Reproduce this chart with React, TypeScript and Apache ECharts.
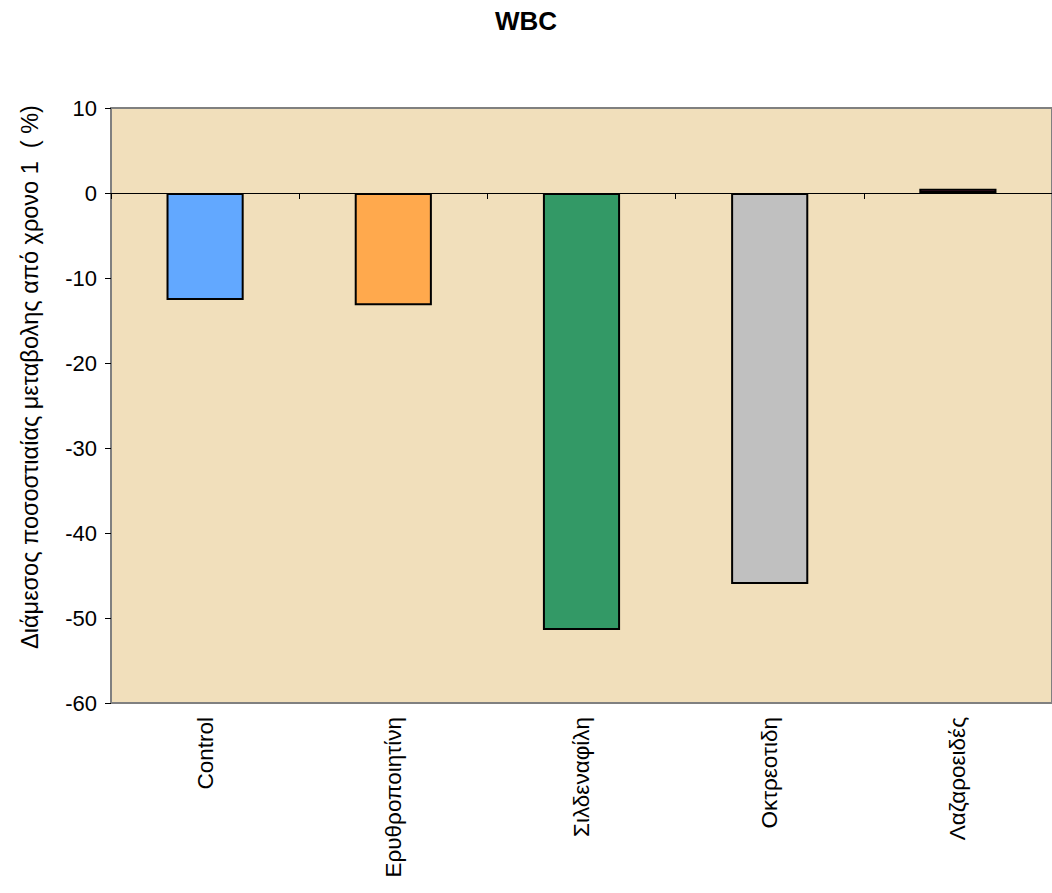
import React, { useEffect, useRef } from "react";
import * as echarts from "echarts";

// WBC: median percentage change from year 1, per treatment group
const categories = ["Control", "Ερυθροποιητίνη", "Σιλδεναφίλη", "Οκτρεοτιδη", "Λαζαροειδές"];
const values = [-12.6, -13.2, -51.4, -46.0, 0.5];
const barColors = ["#62A8FF", "#FFA94D", "#339966", "#C0C0C0", "#993366"];
const yTicks = { min: -60, max: 10, interval: 10 };

const FONT = "'Liberation Sans', Arial, sans-serif";

export default function App() {
  const ref = useRef<HTMLDivElement>(null);

  useEffect(() => {
    if (!ref.current) return;
    const chart = echarts.init(ref.current, undefined, { renderer: "svg" });

    chart.setOption({
      animation: false,
      backgroundColor: "#FFFFFF",
      title: {
        text: "WBC",
        left: "center",
        top: 3,
        textStyle: { fontFamily: FONT, fontSize: 26, fontWeight: "bold", color: "#000" },
      },
      grid: {
        left: 111,
        right: 0,
        top: 108,
        bottom: 190,
        show: true,
        backgroundColor: "#F1DFBB",
        borderColor: "#808080",
        borderWidth: 2,
      },
      xAxis: [
        {
          type: "category",
          data: categories,
          position: "bottom",
          axisLine: { show: false, onZero: false },
          axisTick: { show: false },
          axisLabel: {
            rotate: 90,
            margin: 14,
            fontFamily: FONT,
            fontSize: 22.5,
            color: "#000",
            interval: 0,
          },
        },
        {
          type: "category",
          data: categories,
          position: "bottom",
          axisLine: { show: true, onZero: true, lineStyle: { color: "#000", width: 1 } },
          axisTick: { show: true, inside: false, length: 6, lineStyle: { color: "#000", width: 1 } },
          axisLabel: { show: false },
        },
      ],
      yAxis: {
        type: "value",
        min: yTicks.min,
        max: yTicks.max,
        interval: yTicks.interval,
        axisLine: { show: false },
        axisTick: { show: true, length: 6, lineStyle: { color: "#000" } },
        splitLine: { show: false },
        axisLabel: { margin: 14, fontFamily: FONT, fontSize: 22, color: "#000" },
      },
      graphic: [
        {
          type: "text",
          x: 30,
          y: 377,
          rotation: Math.PI / 2,
          style: {
            text: "Διάμεσος ποσοστιαίας μεταβολης από χρονο 1  ( %)",
            fontFamily: FONT,
            fontSize: 23.5,
            fill: "#000",
            align: "center",
            verticalAlign: "middle",
          },
        },
      ],
      series: [
        {
          type: "bar",
          xAxisIndex: 0,
          barWidth: "41%",
          data: values.map((v, i) => ({
            value: v,
            itemStyle: { color: barColors[i], borderColor: "#000", borderWidth: 2 },
          })),
        },
      ],
    });

    return () => chart.dispose();
  }, []);

  return (
    <div
      ref={ref}
      style={{ position: "absolute", left: 0, top: 0, width: 1052, height: 893 }}
    />
  );
}
